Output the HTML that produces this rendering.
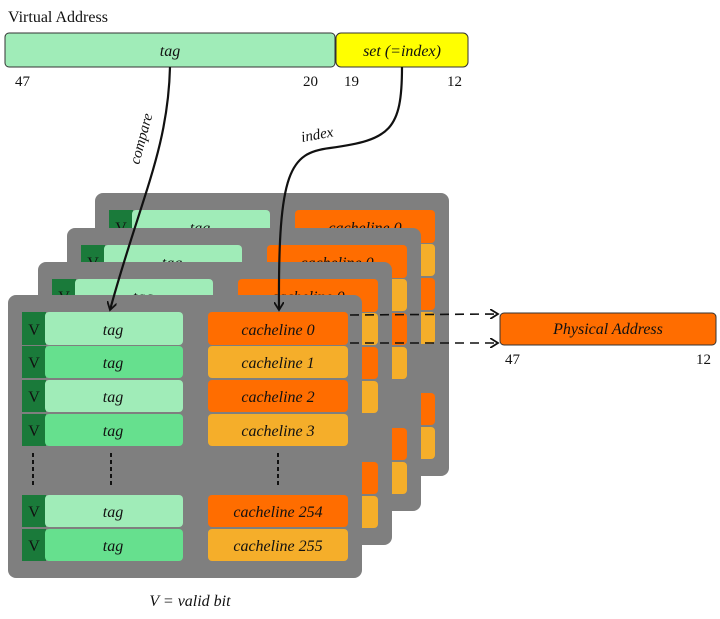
<!DOCTYPE html>
<html><head><meta charset="utf-8"><style>
html,body{margin:0;padding:0;background:#fff;width:720px;height:619px;overflow:hidden}
text{font-family:"Liberation Serif",serif;font-style:italic;fill:#111}
</style></head><body>
<svg width="720" height="619" viewBox="0 0 720 619" xmlns="http://www.w3.org/2000/svg">
<defs>
<g id="panel">
  <rect x="0" y="0" width="354" height="283" rx="8" fill="#7f7f7f"/>
  <g>
    <rect x="14" y="17" width="24" height="33" fill="#1a7a3a"/><rect x="37" y="17" width="138" height="33" rx="4" fill="#a0ecb8"/>
    <rect x="200" y="17" width="140" height="33" rx="4" fill="#ff6d00"/>
    <rect x="14" y="51" width="24" height="32" fill="#1a7a3a"/><rect x="37" y="51" width="138" height="32" rx="4" fill="#66e08e"/>
    <rect x="200" y="51" width="140" height="32" rx="4" fill="#f5ae2a"/>
    <rect x="14" y="85" width="24" height="32" fill="#1a7a3a"/><rect x="37" y="85" width="138" height="32" rx="4" fill="#a0ecb8"/>
    <rect x="200" y="85" width="140" height="32" rx="4" fill="#ff6d00"/>
    <rect x="14" y="119" width="24" height="32" fill="#1a7a3a"/><rect x="37" y="119" width="138" height="32" rx="4" fill="#66e08e"/>
    <rect x="200" y="119" width="140" height="32" rx="4" fill="#f5ae2a"/>
    <rect x="14" y="200" width="24" height="32" fill="#1a7a3a"/><rect x="37" y="200" width="138" height="32" rx="4" fill="#a0ecb8"/>
    <rect x="200" y="200" width="140" height="32" rx="4" fill="#ff6d00"/>
    <rect x="14" y="234" width="24" height="32" fill="#1a7a3a"/><rect x="37" y="234" width="138" height="32" rx="4" fill="#66e08e"/>
    <rect x="200" y="234" width="140" height="32" rx="4" fill="#f5ae2a"/>
    <g stroke="#111" stroke-width="2" stroke-dasharray="4,3">
      <line x1="25" y1="158" x2="25" y2="192"/><line x1="103" y1="158" x2="103" y2="192"/><line x1="270" y1="158" x2="270" y2="192"/>
    </g>
  </g>
  <g font-size="16" text-anchor="middle">
    <text x="26" y="40" style="font-style:normal">V</text><text x="105" y="40">tag</text><text x="270" y="40">cacheline 0</text>
    <text x="26" y="73" style="font-style:normal">V</text><text x="105" y="73">tag</text><text x="270" y="73">cacheline 1</text>
    <text x="26" y="107" style="font-style:normal">V</text><text x="105" y="107">tag</text><text x="270" y="107">cacheline 2</text>
    <text x="26" y="141" style="font-style:normal">V</text><text x="105" y="141">tag</text><text x="270" y="141">cacheline 3</text>
    <text x="26" y="222" style="font-style:normal">V</text><text x="105" y="222">tag</text><text x="270" y="222">cacheline 254</text>
    <text x="26" y="256" style="font-style:normal">V</text><text x="105" y="256">tag</text><text x="270" y="256">cacheline 255</text>
  </g>
</g>
<marker id="ah" markerWidth="10" markerHeight="10" refX="8" refY="5" orient="auto" markerUnits="userSpaceOnUse">
  <path d="M0,0 L8,5 L0,10" fill="none" stroke="#111" stroke-width="1.8"/>
</marker>
</defs>

<text x="8" y="22" font-size="16" style="font-style:normal">Virtual Address</text>
<rect x="5" y="33" width="330" height="34" rx="4" fill="#a0ecb8" stroke="#333" stroke-width="1"/>
<rect x="336" y="33" width="132" height="34" rx="5" fill="#ffff00" stroke="#333" stroke-width="1"/>
<text x="170" y="56" font-size="16" text-anchor="middle">tag</text>
<text x="402" y="56" font-size="16" text-anchor="middle">set (=index)</text>
<g font-size="15">
<text x="15" y="86" style="font-style:normal">47</text><text x="303" y="86" style="font-style:normal">20</text>
<text x="344" y="86" style="font-style:normal">19</text><text x="447" y="86" style="font-style:normal">12</text>
</g>

<use href="#panel" x="95" y="193"/>
<use href="#panel" x="67" y="228"/>
<use href="#panel" x="38" y="262"/>
<use href="#panel" x="8" y="295"/>

<path d="M170,67 C168,150 140,200 110,310" fill="none" stroke="#111" stroke-width="2.2" marker-end="url(#ah)"/>
<path d="M402,67 C402,130 390,140 330,148 C290,153 278,170 279,310" fill="none" stroke="#111" stroke-width="2.2" marker-end="url(#ah)"/>
<text x="0" y="0" font-size="15" transform="translate(139,165) rotate(-75)">compare</text>
<text x="302" y="142" font-size="15" transform="rotate(-10 302 142)">index</text>

<g stroke="#111" stroke-width="1.6" stroke-dasharray="9,6" fill="none">
<line x1="350" y1="315" x2="498" y2="314" marker-end="url(#ah)"/>
<line x1="350" y1="343" x2="498" y2="343" marker-end="url(#ah)"/>
</g>
<rect x="500" y="313" width="216" height="32" rx="4" fill="#ff6d00" stroke="#333" stroke-width="1"/>
<text x="608" y="334" font-size="16" text-anchor="middle">Physical Address</text>
<text x="505" y="364" font-size="15" style="font-style:normal">47</text>
<text x="696" y="364" font-size="15" style="font-style:normal">12</text>

<text x="190" y="606" font-size="16" text-anchor="middle">V = valid bit</text>
</svg>
</body></html>
